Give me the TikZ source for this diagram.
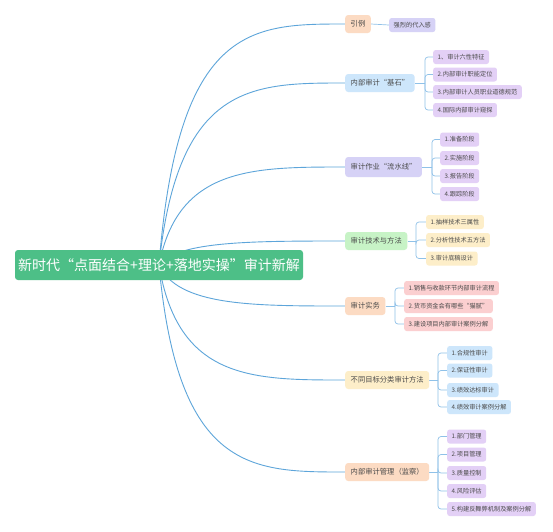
\documentclass[tikz,border=0pt]{standalone}
\usepackage{fontspec}
\setmainfont{Noto Sans CJK SC}
\usetikzlibrary{calc,backgrounds}
\definecolor{rootg}{HTML}{4DBF87}
\definecolor{peach}{HTML}{FCDBC3}
\definecolor{lav}{HTML}{D6D2F6}
\definecolor{purp}{HTML}{E3D0F6}
\definecolor{lblue}{HTML}{CDE6FB}
\definecolor{lgreen}{HTML}{C7F3C6}
\definecolor{lyel}{HTML}{FDEEC9}
\definecolor{lpink}{HTML}{FBCFD0}
\definecolor{mainline}{HTML}{5DA5DA}
\definecolor{brline}{HTML}{8FC1E8}
\definecolor{txt}{HTML}{4A4A4A}
\tikzset{
  rootbox/.style={fill=rootg, text=white, rounded corners=3pt, minimum width=288pt, minimum height=30pt, inner sep=0pt, font=\fontsize{14}{16}\selectfont},
  lone/.style={anchor=west, rounded corners=3pt, inner xsep=5.5pt, inner ysep=0pt, minimum height=18pt, text=txt, font=\fontsize{7.3}{8}\selectfont},
  ltwo/.style={anchor=west, rounded corners=2.5pt, inner xsep=4.5pt, inner ysep=0pt, minimum height=14pt, text=txt, font=\fontsize{6.2}{7}\selectfont},
  mainc/.style={draw=mainline, line width=0.9pt},
  brc/.style={draw=brline, line width=0.7pt, rounded corners=3pt}
}
\newcommand{\mcurve}[2]{\draw[mainc] (#1.center) .. controls ($(#1.center |- #2.west)+(19,0)$) and ($(#1.center |- #2.west)+(93,0)$) .. (#2.west);}
\begin{document}
\begin{tikzpicture}[x=1pt,y=-1pt]
\useasboundingbox (0,0) rectangle (553,531);
\node[rootbox] (root) at (159,265) {新时代“点面结合+理论+落地实操”审计新解};
% level 1
\node[lone, fill=peach] (yl) at (345,24) {引例};
\node[lone, fill=lblue] (js) at (345,83) {内部审计“基石”};
\node[lone, fill=lav, minimum height=20pt] (ls) at (345,167) {审计作业“流水线”};
\node[lone, fill=lgreen] (jf) at (345,241) {审计技术与方法};
\node[lone, fill=peach] (sw) at (345,306) {审计实务};
\node[lone, fill=lyel] (bt) at (345,380) {不同目标分类审计方法};
\node[lone, fill=peach] (gl) at (345,472) {内部审计管理（监察）};
% level 2
\node[ltwo, fill=lav] (yl1) at (389,25) {强烈的代入感};
\node[ltwo, fill=purp] (js1) at (433,57) {1、审计六性特征};
\node[ltwo, fill=purp] (js2) at (433,74.5) {2.内部审计职能定位};
\node[ltwo, fill=purp] (js3) at (433,92) {3.内部审计人员职业道德规范};
\node[ltwo, fill=purp] (js4) at (433,110) {4.国际内部审计窥探};
\node[ltwo, fill=purp] (ls1) at (440,139.5) {1.准备阶段};
\node[ltwo, fill=purp] (ls2) at (440,158) {2.实施阶段};
\node[ltwo, fill=purp] (ls3) at (440,176) {3.报告阶段};
\node[ltwo, fill=purp] (ls4) at (440,194) {4.跟踪阶段};
\node[ltwo, fill=lyel] (jf1) at (426,222) {1.抽样技术三属性};
\node[ltwo, fill=lyel] (jf2) at (426,240) {2.分析性技术五方法};
\node[ltwo, fill=lyel] (jf3) at (426,258.5) {3.审计底稿设计};
\node[ltwo, fill=lpink] (sw1) at (404,288) {1.销售与收款环节内部审计流程};
\node[ltwo, fill=lpink] (sw2) at (404,306) {2.货币资金会有哪些“猫腻”};
\node[ltwo, fill=lpink] (sw3) at (404,324) {3.建设项目内部审计案例分解};
\node[ltwo, fill=lblue] (bt1) at (447,353) {1.合规性审计};
\node[ltwo, fill=lblue] (bt2) at (447,370.5) {2.保证性审计};
\node[ltwo, fill=lblue] (bt3) at (447,390) {3.绩效达标审计};
\node[ltwo, fill=lblue] (bt4) at (447,407) {4.绩效审计案例分解};
\node[ltwo, fill=purp] (gl1) at (447,436.5) {1.部门管理};
\node[ltwo, fill=purp] (gl2) at (447,454.5) {2.项目管理};
\node[ltwo, fill=purp] (gl3) at (447,473) {3.质量控制};
\node[ltwo, fill=purp] (gl4) at (447,491) {4.风险评估};
\node[ltwo, fill=purp] (gl5) at (447,509) {5.构建反舞弊机制及案例分解};
% bracket junctions
\coordinate (bjs) at (425,83);
\coordinate (bls) at (432,167);
\coordinate (bjf) at (416,241);
\coordinate (bsw) at (395,306);
\coordinate (bbt) at (438,380);
\coordinate (bgl) at (438,472);
\begin{pgfonlayer}{background}
\fill[white] (0,0) rectangle (553,531);
\mcurve{root}{yl}
\mcurve{root}{js}
\mcurve{root}{ls}
\mcurve{root}{jf}
\mcurve{root}{sw}
\mcurve{root}{bt}
\mcurve{root}{gl}
\draw[brc] (yl.east) -- (yl1.west);
\draw[brc] (js.east) -- (bjs);
\foreach \c in {js1,js2,js3,js4} \draw[brc] (bjs) |- (\c.west);
\draw[brc] (ls.east) -- (bls);
\foreach \c in {ls1,ls2,ls3,ls4} \draw[brc] (bls) |- (\c.west);
\draw[brc] (jf.east) -- (bjf);
\foreach \c in {jf1,jf2,jf3} \draw[brc] (bjf) |- (\c.west);
\draw[brc] (sw.east) -- (bsw);
\foreach \c in {sw1,sw2,sw3} \draw[brc] (bsw) |- (\c.west);
\draw[brc] (bt.east) -- (bbt);
\foreach \c in {bt1,bt2,bt3,bt4} \draw[brc] (bbt) |- (\c.west);
\draw[brc] (gl.east) -- (bgl);
\foreach \c in {gl1,gl2,gl3,gl4,gl5} \draw[brc] (bgl) |- (\c.west);
\end{pgfonlayer}
\end{tikzpicture}
\end{document}
